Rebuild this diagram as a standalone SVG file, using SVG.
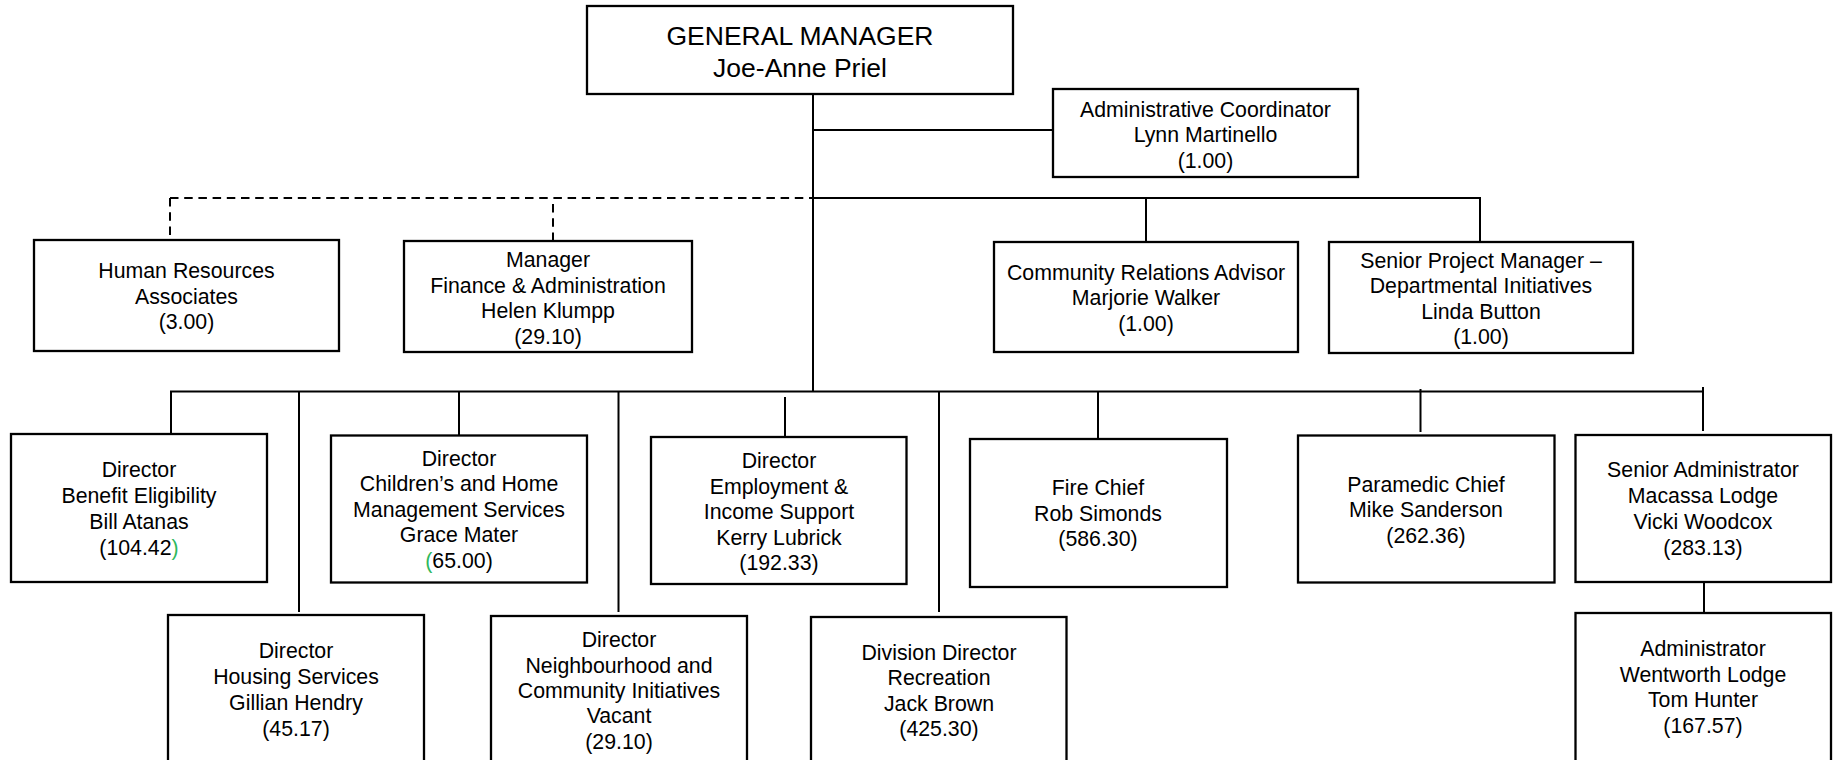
<svg xmlns="http://www.w3.org/2000/svg" width="1833" height="760" viewBox="0 0 1833 760">
<style>
.box{fill:#fff;stroke:#000;stroke-width:2.3}
.t{font-family:"Liberation Sans",Arial,sans-serif;font-size:21.3px;fill:#000;text-anchor:middle}
.tg{font-family:"Liberation Sans",Arial,sans-serif;font-size:26.5px;fill:#000;text-anchor:middle}
.g{fill:#2eb85c}
#connectors line{stroke:#000;stroke-width:2}
#connectors .d{stroke-dasharray:8.5 5.7}
</style>
<rect width="1833" height="760" fill="#fff"/>
<g id="connectors">
<line x1="813" y1="94" x2="813" y2="392"/>
<line x1="813" y1="130" x2="1053" y2="130"/>
<line x1="813" y1="198" x2="1481" y2="198"/>
<line x1="1146" y1="198" x2="1146" y2="242"/>
<line x1="1480" y1="198" x2="1480" y2="242"/>
<line class="d" x1="170" y1="198" x2="813" y2="198"/>
<line class="d" x1="170" y1="198" x2="170" y2="240"/>
<line class="d" x1="553" y1="204" x2="553" y2="241"/>
<line x1="170" y1="391.5" x2="1704" y2="391.5"/>
<line x1="171" y1="391.5" x2="171" y2="434"/>
<line x1="299" y1="391.5" x2="299" y2="612"/>
<line x1="459" y1="391.5" x2="459" y2="435.5"/>
<line x1="618.5" y1="391.5" x2="618.5" y2="612"/>
<line x1="785" y1="397" x2="785" y2="437"/>
<line x1="939" y1="391.5" x2="939" y2="612"/>
<line x1="1098" y1="391.5" x2="1098" y2="439"/>
<line x1="1420.5" y1="389" x2="1420.5" y2="432"/>
<line x1="1703" y1="387" x2="1703" y2="431"/>
<line x1="1704" y1="582" x2="1704" y2="612"/>
</g>
<g id="gm">
<rect class="box" x="587" y="6" width="426" height="88"/>
<text class="tg" x="800" y="45">GENERAL MANAGER</text>
<text class="tg" x="800" y="77">Joe-Anne Priel</text>
</g>
<g id="admin-coord">
<rect class="box" x="1053" y="89" width="305" height="88"/>
<text class="t" x="1205.5" y="116.5">Administrative Coordinator</text>
<text class="t" x="1205.5" y="142">Lynn Martinello</text>
<text class="t" x="1205.5" y="167.5">(1.00)</text>
</g>
<g id="hr">
<rect class="box" x="34" y="240" width="305" height="111"/>
<text class="t" x="186.5" y="278">Human Resources</text>
<text class="t" x="186.5" y="304">Associates</text>
<text class="t" x="186.5" y="329">(3.00)</text>
</g>
<g id="finance">
<rect class="box" x="404" y="241" width="288" height="111"/>
<text class="t" x="548" y="266.5">Manager</text>
<text class="t" x="548" y="292.5">Finance &amp; Administration</text>
<text class="t" x="548" y="318">Helen Klumpp</text>
<text class="t" x="548" y="344">(29.10)</text>
</g>
<g id="community">
<rect class="box" x="994" y="242" width="304" height="110"/>
<text class="t" x="1146" y="279.5">Community Relations Advisor</text>
<text class="t" x="1146" y="305">Marjorie Walker</text>
<text class="t" x="1146" y="330.5">(1.00)</text>
</g>
<g id="spm">
<rect class="box" x="1329" y="242" width="304" height="111"/>
<text class="t" x="1481" y="267.5">Senior Project Manager –</text>
<text class="t" x="1481" y="293">Departmental Initiatives</text>
<text class="t" x="1481" y="318.5">Linda Button</text>
<text class="t" x="1481" y="344">(1.00)</text>
</g>
<g id="benefit">
<rect class="box" x="11" y="434" width="256" height="148"/>
<text class="t" x="139" y="477">Director</text>
<text class="t" x="139" y="503">Benefit Eligibility</text>
<text class="t" x="139" y="529">Bill Atanas</text>
<text class="t" x="139" y="554.5">(104.42<tspan class="g">)</tspan></text>
</g>
<g id="children">
<rect class="box" x="331" y="435.5" width="256" height="147"/>
<text class="t" x="459" y="465.5">Director</text>
<text class="t" x="459" y="491">Children’s and Home</text>
<text class="t" x="459" y="516.5">Management Services</text>
<text class="t" x="459" y="542">Grace Mater</text>
<text class="t" x="459" y="568"><tspan class="g">(</tspan>65.00)</text>
</g>
<g id="employment">
<rect class="box" x="651" y="437" width="255.5" height="147"/>
<text class="t" x="779" y="467.5">Director</text>
<text class="t" x="779" y="493.5">Employment &amp;</text>
<text class="t" x="779" y="519">Income Support</text>
<text class="t" x="779" y="544.5">Kerry Lubrick</text>
<text class="t" x="779" y="570">(192.33)</text>
</g>
<g id="fire">
<rect class="box" x="970" y="439" width="257" height="148"/>
<text class="t" x="1098" y="495">Fire Chief</text>
<text class="t" x="1098" y="520.5">Rob Simonds</text>
<text class="t" x="1098" y="546">(586.30)</text>
</g>
<g id="paramedic">
<rect class="box" x="1298" y="435.5" width="256.5" height="147"/>
<text class="t" x="1426" y="491.5">Paramedic Chief</text>
<text class="t" x="1426" y="517">Mike Sanderson</text>
<text class="t" x="1426" y="543">(262.36)</text>
</g>
<g id="macassa">
<rect class="box" x="1575.5" y="435" width="255.5" height="147"/>
<text class="t" x="1703" y="477">Senior Administrator</text>
<text class="t" x="1703" y="503">Macassa Lodge</text>
<text class="t" x="1703" y="529">Vicki Woodcox</text>
<text class="t" x="1703" y="554.5">(283.13)</text>
</g>
<g id="housing">
<rect class="box" x="168" y="615" width="256" height="170"/>
<text class="t" x="296" y="658">Director</text>
<text class="t" x="296" y="684">Housing Services</text>
<text class="t" x="296" y="710">Gillian Hendry</text>
<text class="t" x="296" y="735.5">(45.17)</text>
</g>
<g id="neighbourhood">
<rect class="box" x="491" y="616" width="256" height="170"/>
<text class="t" x="619" y="646.5">Director</text>
<text class="t" x="619" y="672.5">Neighbourhood and</text>
<text class="t" x="619" y="697.5">Community Initiatives</text>
<text class="t" x="619" y="723">Vacant</text>
<text class="t" x="619" y="749">(29.10)</text>
</g>
<g id="recreation">
<rect class="box" x="811" y="617" width="255.5" height="170"/>
<text class="t" x="939" y="660">Division Director</text>
<text class="t" x="939" y="685">Recreation</text>
<text class="t" x="939" y="710.5">Jack Brown</text>
<text class="t" x="939" y="736">(425.30)</text>
</g>
<g id="wentworth">
<rect class="box" x="1575.5" y="613" width="255.5" height="170"/>
<text class="t" x="1703" y="656">Administrator</text>
<text class="t" x="1703" y="681.5">Wentworth Lodge</text>
<text class="t" x="1703" y="707">Tom Hunter</text>
<text class="t" x="1703" y="733">(167.57)</text>
</g>
</svg>
